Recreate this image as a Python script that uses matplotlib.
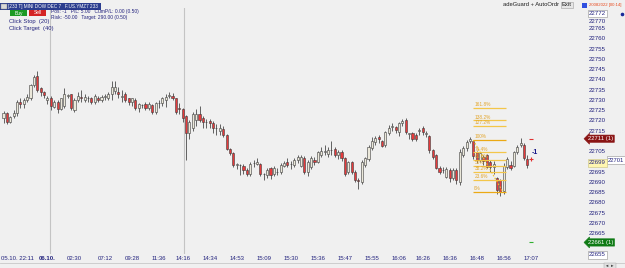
import matplotlib
matplotlib.use("Agg")
import numpy as np
import matplotlib.pyplot as plt
import matplotlib.transforms as mtransforms
from matplotlib.patches import Rectangle

plt.rcParams['font.family'] = ['Liberation Sans', 'DejaVu Sans']

# candles (233 tick bars)
opens = [22721, 22723.5, 22719, 22722, 22723.5, 22729, 22728, 22730, 22731, 22737,
         22741.5, 22735.5, 22734, 22730, 22731, 22726.7, 22729, 22725.5, 22727, 22732,
         22732.7, 22725, 22730, 22731.5, 22730, 22730.7, 22730.7, 22729, 22731, 22730,
         22731.5, 22731, 22733, 22734.3, 22734, 22731.5, 22732.7, 22730.7, 22728.8, 22730,
         22726, 22727.2, 22727.8, 22726, 22727.2, 22724.2, 22728.3, 22728.3, 22730, 22732,
         22732, 22730.7, 22726, 22725.5, 22722, 22713.6, 22716, 22720.1, 22722.9, 22721,
         22719, 22719.6, 22718.5, 22716, 22715, 22715.7, 22712.8, 22706, 22703.9, 22698,
         22698, 22697.8, 22695.7, 22693.6, 22699, 22698.7, 22698.5, 22693.6, 22693.3, 22696.5,
         22694, 22694.6, 22694.6, 22697.5, 22699.5, 22698.5, 22698.2, 22700.6, 22697.5, 22701.4,
         22694.6, 22697, 22700.6, 22699.8, 22703, 22704.7, 22703.4, 22705.3, 22706, 22703,
         22704.7, 22701.7, 22694.6, 22699.5, 22694.9, 22691, 22690, 22698, 22701, 22706.3,
         22709.5, 22712, 22710, 22707.9, 22714, 22716.7, 22716.9, 22714.1, 22718.5, 22720.1,
         22713.4, 22713.6, 22713, 22715, 22716.4, 22713.5, 22712.5, 22705.5, 22703, 22696.9,
         22695.5, 22692.5, 22695.7, 22692, 22695.7, 22689.8, 22703, 22706.3, 22710, 22709.9,
         22704.6, 22700.6, 22702.2, 22703, 22699.8, 22697, 22691.6, 22690.8, 22685.5, 22697.3,
         22698.1, 22697.8, 22704.6, 22708, 22708.1, 22701]
highs = [22724.5, 22724, 22722, 22725, 22730, 22731, 22731, 22733, 22737.5, 22742,
         22744, 22736, 22734.5, 22732, 22732, 22730, 22730, 22731, 22735.6, 22733,
         22733, 22731, 22734, 22735, 22733, 22732, 22731.5, 22733, 22732, 22732.5,
         22733, 22734, 22739, 22739, 22736, 22735, 22734, 22731, 22731, 22731,
         22728.5, 22728, 22729, 22729, 22728, 22729, 22730, 22731.5, 22733, 22734,
         22733.5, 22731, 22728.5, 22726, 22722.5, 22720, 22724, 22725.5, 22726.8, 22722,
         22720.5, 22720.5, 22719.5, 22718, 22718, 22717, 22713.5, 22706.5, 22704.5, 22699,
         22698.5, 22698.5, 22696.5, 22699.5, 22700.5, 22701.7, 22699, 22694.5, 22696.5, 22697,
         22697.5, 22696.5, 22699, 22700, 22701.5, 22700, 22701.5, 22703, 22703, 22702.5,
         22700.5, 22702.5, 22702, 22705, 22707, 22708, 22707, 22710, 22707, 22705.5,
         22705.5, 22702, 22700, 22700, 22695.5, 22692, 22700.5, 22702, 22708, 22712,
         22712.5, 22713, 22710.5, 22715, 22717.5, 22718.5, 22717, 22719, 22720.5, 22721,
         22714, 22714.5, 22714, 22716, 22717, 22715, 22713, 22706, 22703.5, 22697.5,
         22697, 22697, 22696.5, 22696.5, 22696.5, 22706, 22707.5, 22710.5, 22712, 22710.3,
         22705, 22704.5, 22703, 22703.5, 22700.5, 22700, 22692.5, 22691.5, 22699, 22702,
         22700, 22705, 22708, 22711.5, 22709, 22703]
lows = [22718.5, 22718, 22718.5, 22721, 22722, 22726, 22726, 22729, 22730, 22736,
        22734, 22732, 22731, 22728, 22725, 22726, 22723.5, 22725, 22726, 22731,
        22725, 22724, 22729, 22729, 22729, 22729, 22728, 22728, 22729, 22729,
        22730, 22730, 22730, 22733, 22731, 22729, 22729, 22727.5, 22727, 22725,
        22724, 22726, 22725, 22725, 22723, 22723, 22726, 22727, 22726.7, 22731,
        22730, 22723, 22723, 22719, 22700.6, 22711, 22715, 22717, 22719, 22716,
        22716, 22716, 22714, 22713, 22713, 22712, 22705.5, 22703, 22697, 22696,
        22693.3, 22694, 22693, 22693, 22697, 22698, 22693, 22691, 22692, 22691.5,
        22693, 22693.5, 22694, 22697, 22697, 22696, 22697, 22699, 22697, 22694,
        22693, 22696, 22698, 22699, 22702, 22703, 22702, 22703, 22702, 22701,
        22700, 22693, 22694, 22694, 22690, 22686.5, 22689, 22697, 22700, 22705.5,
        22708, 22709, 22707, 22707, 22713, 22715, 22714, 22712.5, 22717, 22713.5,
        22711, 22710, 22710, 22713, 22713, 22712, 22704, 22701, 22696, 22694,
        22694.5, 22692, 22690, 22691, 22688.7, 22688.5, 22702, 22705, 22709, 22701,
        22699, 22699.5, 22698, 22696.5, 22695, 22694, 22684, 22683, 22684, 22696,
        22695.5, 22697, 22703.5, 22707, 22700.5, 22696.5]
closes = [22723.5, 22719, 22721.8, 22723.5, 22729, 22728, 22730, 22731.5, 22737, 22741,
          22735, 22734, 22732.5, 22731, 22727, 22728.8, 22725.5, 22730.7, 22732.7, 22732.2,
          22726, 22730, 22732, 22731, 22731.5, 22730.9, 22729, 22732, 22730, 22731.5,
          22731.7, 22732.7, 22736, 22736, 22732.7, 22731.7, 22730, 22729, 22730.7, 22726,
          22727.8, 22727.3, 22726, 22727.8, 22724, 22728.3, 22728.5, 22730.7, 22731.5, 22732.2,
          22731, 22724.2, 22725.5, 22721, 22713.6, 22719.3, 22722.9, 22722.9, 22720.1, 22719,
          22719.2, 22718.5, 22716, 22716.2, 22716, 22712.8, 22706, 22703.9, 22698.2, 22698.5,
          22698.2, 22695.7, 22693.6, 22698.5, 22699.2, 22699.8, 22693.6, 22693.8, 22695.7, 22693.3,
          22696.5, 22694.8, 22698.2, 22699, 22698.2, 22698.7, 22700.6, 22702.2, 22702.2, 22694.6,
          22699.8, 22701.7, 22699.5, 22704.7, 22705, 22704.9, 22705.5, 22705.5, 22703, 22704.7,
          22701.7, 22693.6, 22699.5, 22694.6, 22690.9, 22690.5, 22699.8, 22701.4, 22707.1, 22709.9,
          22711.5, 22710.8, 22707.6, 22714.1, 22716.4, 22716.9, 22715.2, 22718.5, 22719.6, 22714.4,
          22713.6, 22710.8, 22710.8, 22715.2, 22714.4, 22713.6, 22705.5, 22702.2, 22696.9, 22694.9,
          22695.7, 22696.2, 22692, 22695.7, 22690.9, 22704.6, 22706.3, 22709.5, 22710.8, 22702.7,
          22700.6, 22703.8, 22700, 22697.3, 22697.3, 22698.9, 22686, 22685.2, 22697.8, 22701,
          22696.9, 22704.3, 22707.1, 22709.1, 22701.4, 22698]

time_ticks = [4, 13, 21, 30, 38, 46, 53, 61, 69, 77, 85, 93, 101, 109, 117, 124, 132, 140, 148, 156]
time_labels = ["05.10. 22:11", "06.10.", "02:30", "07:12", "09:28", "11:36", "14:16", "14:34",
               "14:53", "15:09", "15:30", "15:36", "15:47", "15:55", "16:06", "16:26", "16:36",
               "16:48", "16:56", "17:07"]
session_breaks = [13.9, 53.4]

# price labels that are not covered by the marker boxes
price_ticks = [22665, 22670, 22675, 22680, 22685, 22690, 22695, 22705, 22715, 22720,
               22725, 22730, 22735, 22740, 22745, 22750, 22755, 22760, 22765]

# fibonacci retracement drawn on the last swing
fib_start, fib_end = 139, 148.7
fib_high, fib_low = 22710.3, 22685.1
fib_ratios = [1.618, 1.382, 1.272, 1.0, 0.764, 0.618, 0.5, 0.382, 0.236, 0.0]
fib_names = ["161.8%", "138.2%", "127.2%", "100%", "76.4%", "61.8%", "50%", "38.2%", "23.6%", "0%"]

W, H = 625, 268
bg = "#f0f0f0"
navy = "#23237e"

fig = plt.figure(figsize=(W / 100, H / 100), dpi=100, facecolor=bg)
ax = fig.add_axes([0, 1 - 254 / H, 556 / W, 246 / H], facecolor=bg)

x = np.arange(len(closes))
o = np.array(opens)
c = np.array(closes)
up = c >= o
ax.vlines(x, lows, highs, color="#4a4a4a", lw=0.6, zorder=2)
ax.bar(x, np.maximum(np.abs(c - o), 0.35), bottom=np.minimum(o, c), width=0.62,
       color=np.where(up, "#ebe8da", "#e63a3c"), edgecolor="#3c3c3c", linewidth=0.4, zorder=3)

for sb in session_breaks:
    ax.axvline(sb, color="#c4c4c4", lw=0.8, zorder=1)

# fib lines
for r, name in zip(fib_ratios, fib_names):
    lvl = fib_low + r * (fib_high - fib_low)
    col = "#eba915" if r in (0.0, 1.0) else "#f3c64a"
    ax.hlines(lvl, fib_start, fib_end, color=col, lw=0.9, zorder=4)
    ax.text(fib_start + 0.3, lvl + 0.4, name, color="#e3a52a", fontsize=3.4, va="bottom", ha="left", zorder=5)
ax.plot([fib_start, fib_end - 1], [fib_high, fib_low], color="#efc12a", lw=0.8, ls=(0, (1.5, 1.5)), zorder=4)

# position markers next to last bar
ax.text(156.2, 22704.3, "-1", color="#1a1a8a", fontsize=5, fontweight="bold", va="center", ha="left", zorder=6)
ax.hlines(22710.9, 155.6, 156.6, color="#e03030", lw=0.8, zorder=6)
ax.plot([156], [22701.2], marker="+", color="#e03030", ms=3, mew=0.8, zorder=6)
ax.hlines(22660.6, 155.6, 156.6, color="#30b030", lw=0.8, zorder=6)

ax.set_xlim(-1.036, 163.46)
ax.set_ylim(22654.76, 22774.76)
for s in ax.spines.values():
    s.set_visible(False)

ax.yaxis.tick_right()
ax.set_yticks(price_ticks)
ax.set_yticklabels([str(p) for p in price_ticks])
ax.tick_params(axis="y", length=0, pad=23.5, labelsize=4.4, labelcolor=navy)
ax.set_xticks(time_ticks)
ax.set_xticklabels(time_labels)
ax.tick_params(axis="x", length=0, pad=1.5, labelsize=4.3, labelcolor=navy)
ax.get_xticklabels()[1].set_fontweight("bold")


def px(xp, yp):
    return xp / W, 1 - yp / H


# header bar and order buttons
fig.patches.append(Rectangle(px(0, 10), 101 / W, 7 / H, transform=fig.transFigure, fc="#2b3d8f", ec="none"))
fig.patches.append(Rectangle(px(1.5, 9), 5 / W, 5 / H, transform=fig.transFigure, fc="#d8d8d8", ec="#888888", lw=0.3))
fig.text(*px(8, 6.5), "[233 T] MINI DOW DEC 7   F.US.YMZ7 233", color="white", fontsize=3.3, va="center")
fig.patches.append(Rectangle(px(10, 16), 17 / W, 6 / H, transform=fig.transFigure, fc="#1c9a24", ec="none"))
fig.patches.append(Rectangle(px(29, 16), 17 / W, 6 / H, transform=fig.transFigure, fc="#d42424", ec="none"))
fig.text(*px(18.5, 13), "Buy", color="white", fontsize=3.5, ha="center", va="center")
fig.text(*px(37.5, 13), "Sell", color="white", fontsize=3.5, ha="center", va="center")
fig.text(*px(51, 11.5), "Pos: -1   P/L: 5.00   CumP/L: 0.00 (0.50)", color=navy, fontsize=3.5, va="center")
fig.text(*px(51, 17), "Risk: -50.00   Target: 290.00 (0.50)", color=navy, fontsize=3.5, va="center")
fig.text(*px(9, 22), "Click Stop  (20)", color=navy, fontsize=4.2, va="center")
fig.text(*px(9, 28.5), "Click Target  (40)", color=navy, fontsize=4.2, va="center")

# top right toolbar
fig.text(*px(559, 5), "adeGuard + AutoOrdr", color="#202020", fontsize=4.2, ha="right", va="center")
fig.text(*px(567, 5), "Exit", color="#202020", fontsize=4.2, ha="center", va="center",
         bbox=dict(boxstyle="square,pad=0.15", fc="#e6e6e6", ec="#a0a0a0", lw=0.4))
fig.patches.append(Rectangle(px(582, 8), 5 / W, 5 / H, transform=fig.transFigure, fc="#3050e0", ec="none"))
fig.text(*px(589, 5), "20082022 [00:14]", color="#e8481c", fontsize=3.1, va="center")

# price markers on the axis
blend = mtransforms.blended_transform_factory(fig.transFigure, ax.transData)
ax.text(589 / W, 22772, "22772", transform=blend, fontsize=4.4, color=navy, va="center", clip_on=False,
        zorder=10, bbox=dict(boxstyle="square,pad=0.2", fc="white", ec="#909090", lw=0.4))
ax.text(589 / W, 22769.5, "22770", transform=blend, fontsize=4.4, color=navy, va="top", clip_on=False, zorder=9)
ax.plot([622 / W], [22772], transform=blend, marker="o", ms=1.6, color="#1a2a9a", clip_on=False)
ax.text(588 / W, 22711, "22711 (1)", transform=blend, fontsize=4.2, color="white", va="center", clip_on=False,
        zorder=10, bbox=dict(boxstyle="larrow,pad=0.2", fc="#8a1414", ec="#8a1414", lw=0.4))
ax.text(608 / W, 22700.6, "22701", transform=blend, fontsize=4.2, color=navy, va="center", clip_on=False,
        zorder=10, bbox=dict(boxstyle="square,pad=0.2", fc="white", ec="#909090", lw=0.4))
ax.text(589 / W, 22699.2, "22699", transform=blend, fontsize=4.4, color=navy, va="center", clip_on=False,
        zorder=10, bbox=dict(boxstyle="square,pad=0.2", fc="#fff6b0", ec="#c8c080", lw=0.4))
ax.text(588 / W, 22660.4, "22661 (1)", transform=blend, fontsize=4.2, color="white", va="center", clip_on=False,
        zorder=10, bbox=dict(boxstyle="larrow,pad=0.2", fc="#0e7a14", ec="#0e7a14", lw=0.4))
ax.text(589 / W, 22654.3, "22655", transform=blend, fontsize=4.4, color=navy, va="center", clip_on=False,
        zorder=10, bbox=dict(boxstyle="square,pad=0.2", fc="white", ec="#909090", lw=0.4))

# bottom strip
fig.add_artist(plt.Line2D([0, 1], [1 - 263 / H] * 2, transform=fig.transFigure, color="#c8c8c8", lw=0.6))
fig.text(*px(610, 266), "\u25c4 \u25ba", color="#404040", fontsize=3, ha="center", va="center",
         bbox=dict(boxstyle="square,pad=0.2", fc="#e0e0e0", ec="#a0a0a0", lw=0.3))

fig.savefig("out.png", dpi=100, facecolor=bg)
